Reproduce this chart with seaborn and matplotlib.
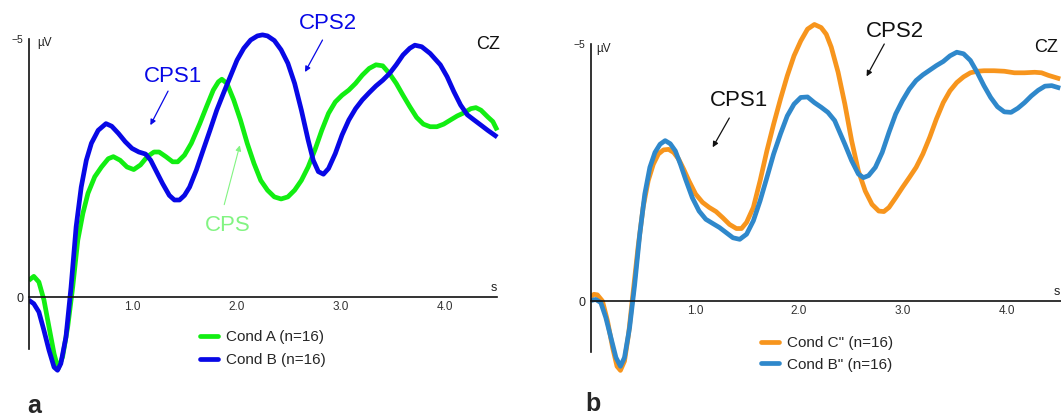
import numpy as np
import pandas as pd
import matplotlib
matplotlib.use("Agg")
import matplotlib.pyplot as plt
import seaborn as sns

# ---------------- data (seconds, µV; negative plotted upward) ----------------
tA = [0, 0.049, 0.098, 0.147, 0.195, 0.244, 0.283, 0.326, 0.375, 0.423, 0.472, 0.521, 0.570, 0.635,
      0.700, 0.765, 0.814, 0.879, 0.945, 1.010, 1.075, 1.140, 1.205, 1.254, 1.319, 1.384, 1.433,
      1.498, 1.564, 1.645, 1.710, 1.775, 1.824, 1.857, 1.906, 1.971, 2.036, 2.101, 2.166, 2.231,
      2.296, 2.362, 2.427, 2.492, 2.557, 2.622, 2.687, 2.752, 2.818, 2.883, 2.948, 3.013, 3.078,
      3.143, 3.208, 3.274, 3.339, 3.404, 3.469, 3.534, 3.599, 3.664, 3.730, 3.795, 3.860, 3.925,
      3.990, 4.055, 4.121, 4.186, 4.251, 4.300, 4.349, 4.414, 4.463, 4.505]
vA = [-0.32, -0.40, -0.29, 0.06, 0.58, 1.10, 1.39, 1.16, 0.58, -0.19, -1.10, -1.62, -2.01, -2.33,
      -2.52, -2.68, -2.72, -2.65, -2.52, -2.47, -2.56, -2.72, -2.81, -2.81, -2.72, -2.62, -2.62,
      -2.75, -2.98, -3.36, -3.69, -4.01, -4.17, -4.22, -4.14, -3.82, -3.43, -2.98, -2.59, -2.26,
      -2.07, -1.94, -1.90, -1.94, -2.07, -2.26, -2.52, -2.85, -3.23, -3.56, -3.78, -3.91, -4.01,
      -4.14, -4.30, -4.43, -4.50, -4.48, -4.33, -4.14, -3.91, -3.69, -3.48, -3.35, -3.30, -3.30,
      -3.35, -3.43, -3.51, -3.57, -3.65, -3.67, -3.62, -3.49, -3.40, -3.23]

tB = [0, 0.049, 0.098, 0.147, 0.195, 0.244, 0.277, 0.309, 0.358, 0.407, 0.456, 0.505, 0.554, 0.603,
      0.668, 0.743, 0.798, 0.863, 0.928, 0.993, 1.059, 1.124, 1.173, 1.221, 1.287, 1.352, 1.401,
      1.450, 1.498, 1.547, 1.612, 1.678, 1.743, 1.808, 1.873, 1.938, 2.003, 2.068, 2.134, 2.199,
      2.248, 2.296, 2.362, 2.427, 2.492, 2.557, 2.622, 2.687, 2.736, 2.785, 2.834, 2.883, 2.948,
      3.013, 3.078, 3.143, 3.208, 3.274, 3.339, 3.404, 3.469, 3.534, 3.599, 3.664, 3.713, 3.779,
      3.860, 3.958, 4.023, 4.088, 4.153, 4.218, 4.283, 4.349, 4.414, 4.505]
vB = [0.06, 0.13, 0.29, 0.65, 1.03, 1.36, 1.42, 1.29, 0.78, -0.19, -1.36, -2.13, -2.65, -2.98,
      -3.23, -3.36, -3.31, -3.17, -3.01, -2.88, -2.81, -2.77, -2.65, -2.46, -2.20, -1.97, -1.88,
      -1.88, -1.97, -2.13, -2.46, -2.85, -3.23, -3.62, -3.95, -4.27, -4.59, -4.82, -4.98, -5.06,
      -5.08, -5.06, -4.97, -4.79, -4.53, -4.14, -3.62, -3.04, -2.65, -2.43, -2.38, -2.49, -2.78,
      -3.14, -3.43, -3.65, -3.82, -3.96, -4.09, -4.20, -4.33, -4.50, -4.69, -4.82, -4.88, -4.85,
      -4.72, -4.50, -4.27, -3.98, -3.72, -3.53, -3.43, -3.33, -3.23, -3.10]

tC = [0, 0.028, 0.061, 0.110, 0.159, 0.208, 0.250, 0.283, 0.322, 0.361, 0.403, 0.452, 0.501, 0.550,
      0.599, 0.648, 0.697, 0.746, 0.795, 0.843, 0.892, 0.941, 1.006, 1.072, 1.137, 1.202, 1.267,
      1.332, 1.398, 1.447, 1.496, 1.561, 1.626, 1.691, 1.756, 1.822, 1.887, 1.952, 2.017, 2.082,
      2.148, 2.213, 2.262, 2.310, 2.376, 2.441, 2.506, 2.571, 2.637, 2.702, 2.767, 2.816, 2.865,
      2.930, 2.995, 3.060, 3.126, 3.191, 3.256, 3.321, 3.387, 3.452, 3.517, 3.582, 3.648, 3.713,
      3.778, 3.876, 3.974, 4.071, 4.169, 4.267, 4.332, 4.398, 4.512]
vC = [-0.08, -0.13, -0.12, 0.0, 0.39, 0.91, 1.27, 1.35, 1.17, 0.65, -0.13, -1.04, -1.82, -2.34,
      -2.66, -2.86, -2.94, -2.95, -2.89, -2.76, -2.56, -2.34, -2.08, -1.92, -1.82, -1.74, -1.62,
      -1.49, -1.41, -1.41, -1.53, -1.82, -2.34, -2.92, -3.44, -3.93, -4.38, -4.77, -5.06, -5.29,
      -5.38, -5.32, -5.19, -4.94, -4.45, -3.83, -3.12, -2.53, -2.14, -1.88, -1.75, -1.74, -1.82,
      -2.01, -2.21, -2.40, -2.60, -2.86, -3.18, -3.54, -3.86, -4.09, -4.25, -4.36, -4.44, -4.47,
      -4.48, -4.48, -4.47, -4.44, -4.44, -4.45, -4.44, -4.39, -4.32]

tD = [0, 0.045, 0.094, 0.142, 0.191, 0.240, 0.283, 0.322, 0.371, 0.420, 0.469, 0.517, 0.566, 0.615,
      0.664, 0.713, 0.762, 0.811, 0.860, 0.909, 0.974, 1.039, 1.104, 1.169, 1.235, 1.300, 1.365,
      1.430, 1.496, 1.561, 1.626, 1.691, 1.756, 1.822, 1.887, 1.952, 2.017, 2.082, 2.148, 2.213,
      2.278, 2.343, 2.392, 2.441, 2.506, 2.571, 2.620, 2.669, 2.734, 2.800, 2.865, 2.930, 2.995,
      3.060, 3.126, 3.191, 3.256, 3.321, 3.387, 3.452, 3.517, 3.582, 3.648, 3.713, 3.778, 3.843,
      3.908, 3.974, 4.039, 4.104, 4.169, 4.234, 4.300, 4.365, 4.430, 4.512]
vD = [-0.01, -0.03, 0.03, 0.32, 0.71, 1.10, 1.27, 1.10, 0.52, -0.32, -1.30, -2.08, -2.60, -2.89,
      -3.05, -3.12, -3.06, -2.92, -2.66, -2.37, -2.01, -1.75, -1.59, -1.51, -1.43, -1.33, -1.23,
      -1.20, -1.30, -1.56, -1.95, -2.40, -2.86, -3.25, -3.60, -3.83, -3.96, -3.97, -3.86, -3.77,
      -3.67, -3.51, -3.28, -3.05, -2.73, -2.47, -2.40, -2.44, -2.60, -2.89, -3.28, -3.64, -3.90,
      -4.12, -4.29, -4.40, -4.49, -4.58, -4.66, -4.77, -4.84, -4.81, -4.68, -4.45, -4.19, -3.96,
      -3.78, -3.68, -3.67, -3.75, -3.86, -3.99, -4.10, -4.18, -4.19, -4.14]

labels_left = ["Cond A (n=16)", "Cond B (n=16)"]
labels_right = ['Cond C" (n=16)', 'Cond B" (n=16)']
xticks = [1, 2, 3, 4]
xticklabels = ["1.0", "2.0", "3.0", "4.0"]
yticks = [-5, 0]
yticklabels = ["\u22125", "0"]

GREEN, BLUE = "#12ee12", "#0808e6"
ORANGE, BLUE2 = "#f7951d", "#2f88cb"
LIGHTGREEN = "#82f482"

# ---------------- style ----------------
sns.set_theme(style="white")
plt.rcParams["font.family"] = ["Liberation Sans", "DejaVu Sans"]

W, H = 1061, 419
fig = plt.figure(figsize=(W / 100, H / 100), dpi=100)


def make_axes(x0, zero_y, ppx, ppy, xmax):
    ytop, ybot = -5.6, 1.5
    top_px = zero_y + ytop * ppy
    bot_px = zero_y + ybot * ppy
    ax = fig.add_axes([x0 / W, 1 - bot_px / H, xmax * ppx / W, (bot_px - top_px) / H])
    ax.set_xlim(0, xmax)
    ax.set_ylim(ybot, ytop)
    return ax


def style(ax, xend):
    ax.patch.set_alpha(0)
    for s in ["top", "right"]:
        ax.spines[s].set_visible(False)
    ax.spines["bottom"].set_position(("data", 0))
    ax.spines["bottom"].set_bounds(0, xend)
    ax.spines["left"].set_bounds(-5, 1)
    for s in ["left", "bottom"]:
        ax.spines[s].set_color("#111111")
        ax.spines[s].set_linewidth(1.2)
    ax.set_xticks(xticks)
    ax.set_xticklabels(xticklabels, fontsize=8.5, color="#333333")
    ax.tick_params(axis="x", direction="in", length=3, width=1, pad=3, colors="#333333")
    ax.set_yticks(yticks)
    yl = ax.set_yticklabels(yticklabels, color="#222222")
    yl[0].set_fontsize(7.5)
    yl[1].set_fontsize(9)
    ax.tick_params(axis="y", direction="inout", length=6, width=1, pad=1, colors="#222222")
    ax.set_xlabel("")
    ax.set_ylabel("")
    ax.grid(False)


def draw(ax, t1, v1, t2, v2, labs, cols):
    df = pd.concat([
        pd.DataFrame({"t": t1, "v": v1, "cond": labs[0]}),
        pd.DataFrame({"t": t2, "v": v2, "cond": labs[1]}),
    ])
    sns.lineplot(data=df, x="t", y="v", hue="cond", hue_order=labs,
                 palette=dict(zip(labs, cols)), sort=False, estimator=None,
                 linewidth=3.4, legend=False, ax=ax)
    for ln in ax.get_lines():
        ln.set_solid_joinstyle("round")
        ln.set_solid_capstyle("butt")


arrow_kw = dict(arrowstyle="-|>", mutation_scale=8, shrinkA=0, shrinkB=0)

# ---------------- panel a ----------------
ax1 = make_axes(28.7, 297, 104, 51.6, 4.6)
draw(ax1, tA, vA, tB, vB, labels_left, [GREEN, BLUE])
style(ax1, 4.5)
ax1.text(0.08, -4.93, "\u00b5V", fontsize=8.5, color="#222222", ha="left", va="center")
ax1.text(4.47, -0.06, "s", fontsize=9, color="#222222", ha="center", va="bottom")
ax1.text(4.42, -4.9, "CZ", fontsize=13, color="#111111", ha="center", va="center")

ax1.text(1.39, -4.27, "CPS1", fontsize=16, color=BLUE, ha="center", va="center")
ax1.annotate("", xy=(1.17, -3.33), xytext=(1.34, -3.99),
             arrowprops=dict(color=BLUE, lw=0.9, **arrow_kw))
ax1.text(2.88, -5.30, "CPS2", fontsize=16, color=BLUE, ha="center", va="center")
ax1.annotate("", xy=(2.657, -4.36), xytext=(2.825, -4.98),
             arrowprops=dict(color=BLUE, lw=0.9, **arrow_kw))
ax1.text(1.91, -1.38, "CPS", fontsize=16, color=LIGHTGREEN, ha="center", va="center")
ax1.annotate("", xy=(2.03, -2.94), xytext=(1.88, -1.79),
             arrowprops=dict(color=LIGHTGREEN, lw=0.8, **arrow_kw))

leg1 = ax1.legend(ax1.get_lines()[:2], labels_left, frameon=False, loc="upper left",
                  bbox_to_anchor=(200 / W, 1 - 330 / H), bbox_transform=fig.transFigure,
                  fontsize=11, handlelength=1.15, handletextpad=0.55, labelspacing=0.62,
                  borderpad=0, borderaxespad=0)
for h in leg1.legend_handles:
    h.set_solid_capstyle("round")

# ---------------- panel b ----------------
ax2 = make_axes(591, 301, 104, 51.4, 4.7)
draw(ax2, tC, vC, tD, vD, labels_right, [ORANGE, BLUE2])
style(ax2, 4.65)
ax2.text(0.05, -4.9, "\u00b5V", fontsize=8.5, color="#222222", ha="left", va="center")
ax2.text(4.48, -0.06, "s", fontsize=9, color="#222222", ha="center", va="bottom")
ax2.text(4.26, -4.93, "CZ", fontsize=13, color="#111111", ha="left", va="center")

ax2.text(1.42, -3.90, "CPS1", fontsize=16, color="#111111", ha="center", va="center")
ax2.annotate("", xy=(1.17, -2.99), xytext=(1.33, -3.56),
             arrowprops=dict(color="#111111", lw=0.9, **arrow_kw))
ax2.text(2.92, -5.25, "CPS2", fontsize=16, color="#111111", ha="center", va="center")
ax2.annotate("", xy=(2.65, -4.37), xytext=(2.82, -5.0),
             arrowprops=dict(color="#111111", lw=0.9, **arrow_kw))

leg2 = ax2.legend(ax2.get_lines()[:2], labels_right, frameon=False, loc="upper left",
                  bbox_to_anchor=(761 / W, 1 - 336 / H), bbox_transform=fig.transFigure,
                  fontsize=11, handlelength=1.15, handletextpad=0.55, labelspacing=0.5,
                  borderpad=0, borderaxespad=0)
for h in leg2.legend_handles:
    h.set_solid_capstyle("round")

# ---------------- panel letters ----------------
fig.text(34 / W, 1 - 406 / H, "a", fontsize=18, fontweight="bold", ha="center", va="center")
fig.text(593 / W, 1 - 404 / H, "b", fontsize=18, fontweight="bold", ha="center", va="center")

fig.savefig("out.png", dpi=100)
